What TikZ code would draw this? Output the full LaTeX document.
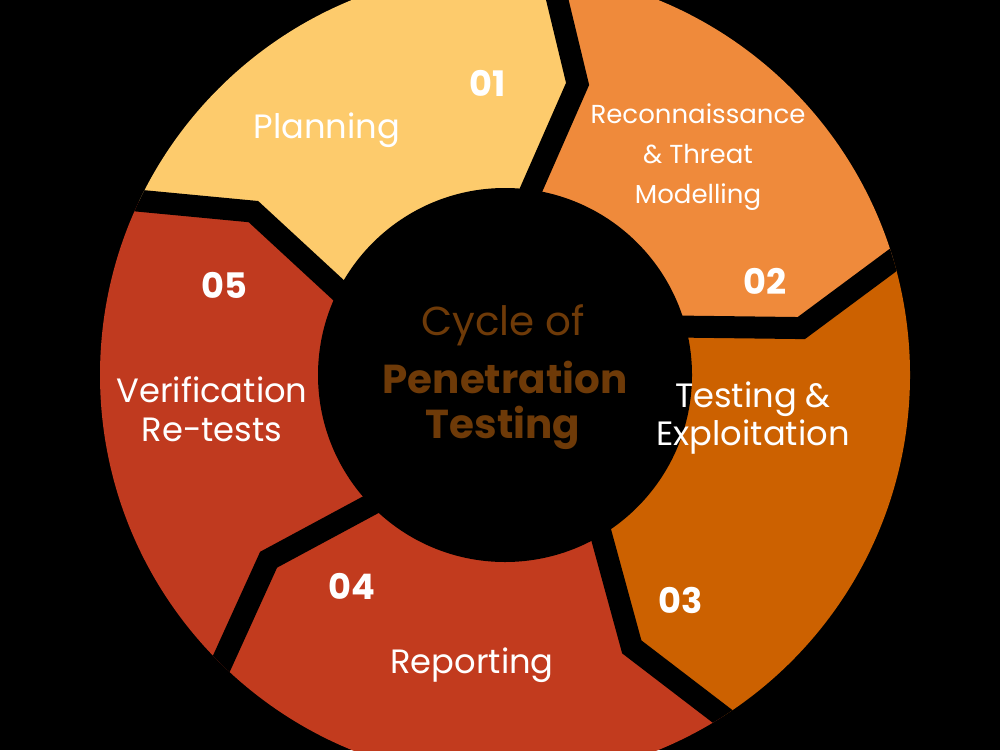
\documentclass[tikz,border=0pt]{standalone}
\usepackage{fontspec}
\setmainfont{Poppins}
\begin{document}
\begin{tikzpicture}[
  lbl/.style={text=white,font=\fontsize{9.6pt}{11pt}\selectfont,align=center},
  lbls/.style={text=white,font=\fontsize{7.4pt}{11.4pt}\selectfont,align=center},
  num/.style={text=white,font=\fontsize{10pt}{12pt}\selectfont\bfseries},
  ctr/.style={text=brn,font=\fontsize{11.5pt}{13pt}\selectfont},
  ctrb/.style={text=brn,font=\fontsize{11.5pt}{13pt}\selectfont\bfseries}]
\definecolor{cA}{HTML}{FDCB6C}
\definecolor{cB}{HTML}{EF8A3B}
\definecolor{cC}{HTML}{CC6100}
\definecolor{cD}{HTML}{C23B1E}
\definecolor{cE}{HTML}{C03A1F}
\definecolor{brn}{HTML}{6E3A08}
\fill[black] (0,0) rectangle (10,7.5);
\useasboundingbox (0,0) rectangle (10,7.5);
\begin{scope}[shift={(5.05,3.75)}]
\clip (0,0) circle (4.05);
\foreach \A/\B/\c in {157/86/cA,86/19/cB,19/-55/cC,-55/-132/cD,-132/-203/cE}{
  \fill[\c] (\A:1.5) -- (\A-10:3.0) -- (\A:4.6) arc[start angle=\A,end angle=\B,radius=4.6]
    -- (\B-10:3.0) -- (\B:1.5) -- cycle;
}
\foreach \A in {157,86,19,-55,-132}{
  \draw[black,line width=0.22cm,line join=miter] (\A:1.5) -- (\A-10:3.0) -- (\A:4.6);
}
\fill[black] (0,0) circle (1.87);
\end{scope}
\node[num] (n1) at (4.88,6.67) {01};
\node[lbl] (t1) at (3.27,6.20) {Planning};
\node[lbls] (t2) at (6.98,5.93) {Reconnaissance\\ \&\ Threat\\ Modelling};
\node[num] (n2) at (7.65,4.69) {02};
\node[lbl] (t3) at (7.53,3.32) {Testing \&\\ Exploitation};
\node[num] (n3) at (6.81,1.50) {03};
\node[num] (n4) at (3.52,1.64) {04};
\node[lbl] (t4) at (4.72,0.85) {Reporting};
\node[num] (n5) at (2.24,4.65) {05};
\node[lbl] (t5) at (2.12,3.41) {Verification\\ Re-tests};
\node[ctr] (c1) at (5.03,4.25) {Cycle of};
\node[ctrb] (c2) at (5.05,3.73) {Penetration};
\node[ctrb] (c3) at (5.03,3.22) {Testing};
\end{tikzpicture}
\end{document}
